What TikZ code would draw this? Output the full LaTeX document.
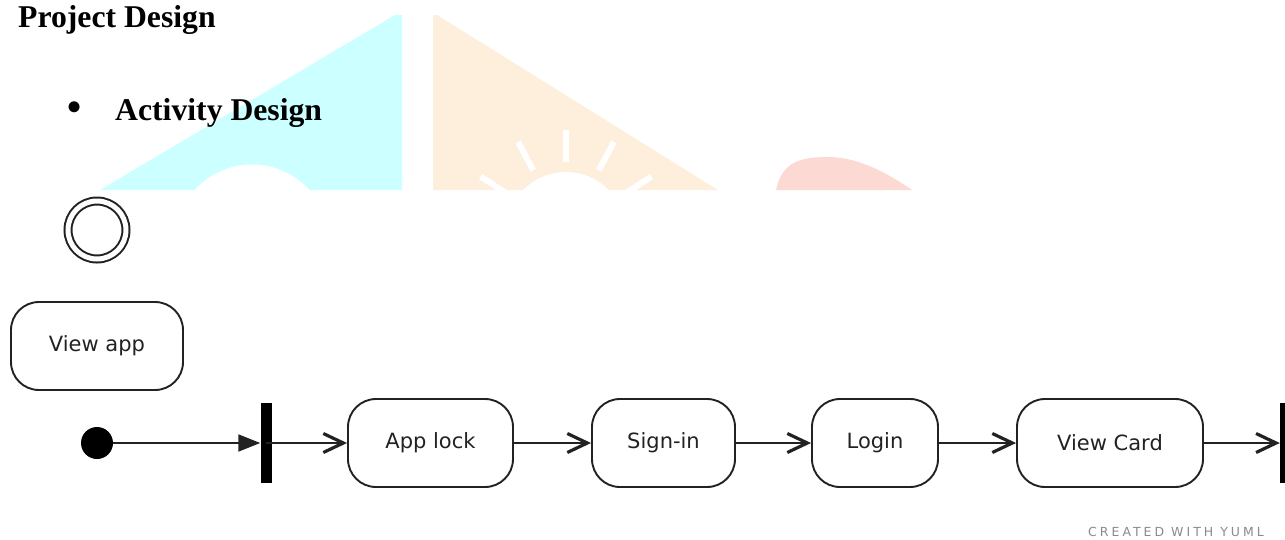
\documentclass[tikz,border=0pt]{standalone}
\usepackage{fontspec}
\setmainfont{Liberation Serif}
\newfontfamily\umlfont{DejaVu Sans}
\newfontfamily\creditfont[LetterSpace=24]{DejaVu Sans}
\usetikzlibrary{arrows.meta,positioning}
\definecolor{wmcyan}{HTML}{CCFFFF}
\definecolor{wmorange}{HTML}{FEEEDC}
\definecolor{wmred}{HTML}{FCD9D2}
\definecolor{inkgray}{HTML}{222222}
\definecolor{creditgray}{HTML}{8A8A8A}
\tikzset{
  heading/.style={font=\fontsize{31.7}{38}\selectfont\bfseries, inner sep=0pt, anchor=base west},
  activity/.style={draw=inkgray, line width=1.9pt, rounded corners=28pt, minimum height=88pt, align=center, font=\umlfont\fontsize{21}{25}\selectfont, text=inkgray, inner sep=0pt},
  syncbar/.style={fill=black, minimum width=11pt, minimum height=80pt, inner sep=0pt},
  flow/.style={-{Straight Barb[length=20pt,width=19pt,line width=3.2pt]}, line width=1.9pt, draw=inkgray},
  startflow/.style={-{Triangle[length=22pt,width=17pt]}, line width=1.9pt, draw=inkgray},
  ray/.style={draw=white, line width=6pt}
}

\begin{document}
\begin{tikzpicture}[x=1pt, y=-1pt]
  \clip (0,0) rectangle (1285,539);
  \useasboundingbox (0,0) rectangle (1285,539);

  % watermark, cut off at the top of the diagram
  \begin{scope}
    \clip (0,0) rectangle (1285,190);
    \fill[wmcyan] (100,190) -- (395,15) -- (402,15) -- (402,190) -- cycle;
    \fill[white] (252,242) circle (77.5);
    \fill[wmorange] (433,15) -- (437,15) -- (718,190) -- (433,190) -- cycle;
    \fill[white] (566,232) circle (60);
    \foreach \a in {33,62,90,118,147}
      \draw[ray] (566,232) ++(-\a:70) -- ++(-\a:32);
    \fill[wmred] (776,190) .. controls (782,162) and (800,157) .. (828,157)
      .. controls (860,157) and (890,175) .. (912,190) -- cycle;
  \end{scope}

  \node[heading] (title) at (18,27) {Project Design};
  \node[font=\fontsize{46}{50}\selectfont, inner sep=0pt] (bullet) at (75,112) {•};
  \node[heading] (subtitle) at (115,120) {Activity Design};

  \node[circle, draw=inkgray, double, double distance=5pt, line width=2pt, minimum size=58pt] (final) at (97,230) {};
  \node[activity, minimum width=172pt] (viewapp) at (97,346) {View app};

  \node[circle, fill=black, minimum size=32pt, inner sep=0pt] (start) at (97,443) {};
  \node[syncbar] (fork) at (266,443) {};
  \node[activity, minimum width=165pt] (applock) at (430.5,443) {App lock};
  \node[activity, minimum width=143pt] (signin) at (663.5,443) {Sign-in};
  \node[activity, minimum width=126pt] (login) at (875,443) {Login};
  \node[activity, minimum width=186pt] (viewcard) at (1110,443) {View Card};
  \node[syncbar] (join) at (1285.5,443) {};

  \node[font=\creditfont\fontsize{12.5}{14}\selectfont, text=creditgray, inner sep=0pt] (credit) at (1176,532) {CREATED WITH YUML};

  \draw[startflow] (start) -- (fork.west);
  \draw[flow] (fork.center) -- (applock);
  \draw[flow] (applock) -- (signin);
  \draw[flow] (signin) -- (login);
  \draw[flow] (login) -- (viewcard);
  \draw[flow] (viewcard) -- (join.west);
\end{tikzpicture}
\end{document}
